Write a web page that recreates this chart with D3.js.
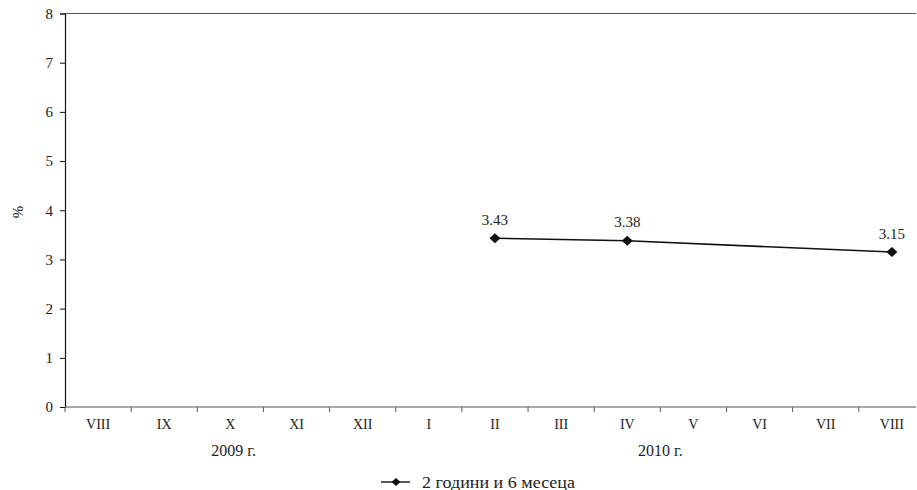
<!DOCTYPE html>
<html><head><meta charset="utf-8">
<script src="https://cdn.jsdelivr.net/npm/d3@7"></script>
<style>body{margin:0;background:#fff}svg{display:block}text{font-family:"Liberation Serif","Times New Roman",serif;fill:#222}</style>
</head><body><svg id="c" width="917" height="490"></svg>
<script>
const categories = ["VIII","IX","X","XI","XII","I","II","III","IV","V","VI","VII","VIII"];
const seriesName = "2 години и 6 месеца";
const seriesValues = [null,null,null,null,null,null,3.43,null,3.38,null,null,null,3.15];
const yTicks = [0,1,2,3,4,5,6,7,8];
const yearLabels = [{label:"2009 г.", at:2.55},{label:"2010 г.", at:9}];

(function(){
const svg = d3.select("#c");
const mLeft = 65, mTop = 13.5, mBottom = 407, step = 66.15;
const mRight = mLeft + step*categories.length;
const idx = categories.map((d,i)=>i);
const x = d3.scaleBand().domain(idx).range([mLeft,mRight]).paddingInner(0).paddingOuter(0);
const y = d3.scaleLinear().domain([0,8]).range([mBottom, mTop]);

// top border
svg.append("line").attr("x1",mLeft).attr("x2",916).attr("y1",y(8)).attr("y2",y(8)).attr("stroke","#555").attr("stroke-width",1.2);

// y axis
const ya = svg.append("g").attr("transform",`translate(${mLeft},0)`)
  .call(d3.axisLeft(y).tickValues(yTicks).tickSize(5).tickPadding(7).tickFormat(d3.format("d")));
ya.select(".domain").attr("stroke","#111").attr("stroke-width",1.2);
ya.selectAll(".tick line").attr("stroke","#111");
ya.selectAll("text").style("font-size","15px").attr("fill","#222");

// x axis line
svg.append("line").attr("x1",mLeft).attr("x2",916).attr("y1",mBottom).attr("y2",mBottom).attr("stroke","#555").attr("stroke-width",1.2);
// category separators
svg.append("g").selectAll("line").data(d3.range(categories.length+1)).join("line")
  .attr("x1",i=>mLeft+i*x.bandwidth()).attr("x2",i=>mLeft+i*x.bandwidth())
  .attr("y1",mBottom).attr("y2",mBottom+5).attr("stroke","#555").attr("stroke-width",1);
// category labels
svg.append("g").selectAll("text").data(idx).join("text")
  .attr("x",i=>x(i)+x.bandwidth()/2).attr("y",429).attr("text-anchor","middle")
  .style("font-size","14px").text(i=>categories[i]);
// year labels
svg.append("g").selectAll("text").data(yearLabels).join("text")
  .attr("x",d=>mLeft+d.at*x.bandwidth()).attr("y",456).attr("text-anchor","middle")
  .style("font-size","16px").text(d=>d.label);

// y label
svg.append("text").attr("transform","translate(23,212) rotate(-90)").attr("text-anchor","middle")
  .style("font-size","15px").text("%");

// series
const pts = idx.filter(i=>seriesValues[i]!=null).map(i=>({i,v:seriesValues[i]}));
const cx = d=>x(d.i)+x.bandwidth()/2;
svg.append("path").datum(pts).attr("fill","none").attr("stroke","#111").attr("stroke-width",1.6)
  .attr("d",d3.line().x(cx).y(d=>y(d.v)));
const diamond = "M0,-5L5.5,0L0,5L-5.5,0Z";
svg.append("g").selectAll("path").data(pts).join("path")
  .attr("d",diamond).attr("transform",d=>`translate(${cx(d)},${y(d.v)})`).attr("fill","#111");
svg.append("g").selectAll("text").data(pts).join("text")
  .attr("x",cx).attr("y",d=>y(d.v)-13.5).attr("text-anchor","middle")
  .style("font-size","15px").text(d=>d3.format(".2f")(d.v));

// legend
const lg = svg.append("g").attr("transform","translate(381,482)");
lg.append("line").attr("x1",0).attr("x2",29).attr("stroke","#111").attr("stroke-width",1.4);
lg.append("path").attr("d","M0,-4L4.5,0L0,4L-4.5,0Z").attr("transform","translate(15,0)").attr("fill","#111");
lg.append("text").attr("x",41).attr("y",5.5).style("font-size","16px")
  .attr("textLength",153).attr("lengthAdjust","spacingAndGlyphs").text(seriesName);
})();
</script></body></html>
